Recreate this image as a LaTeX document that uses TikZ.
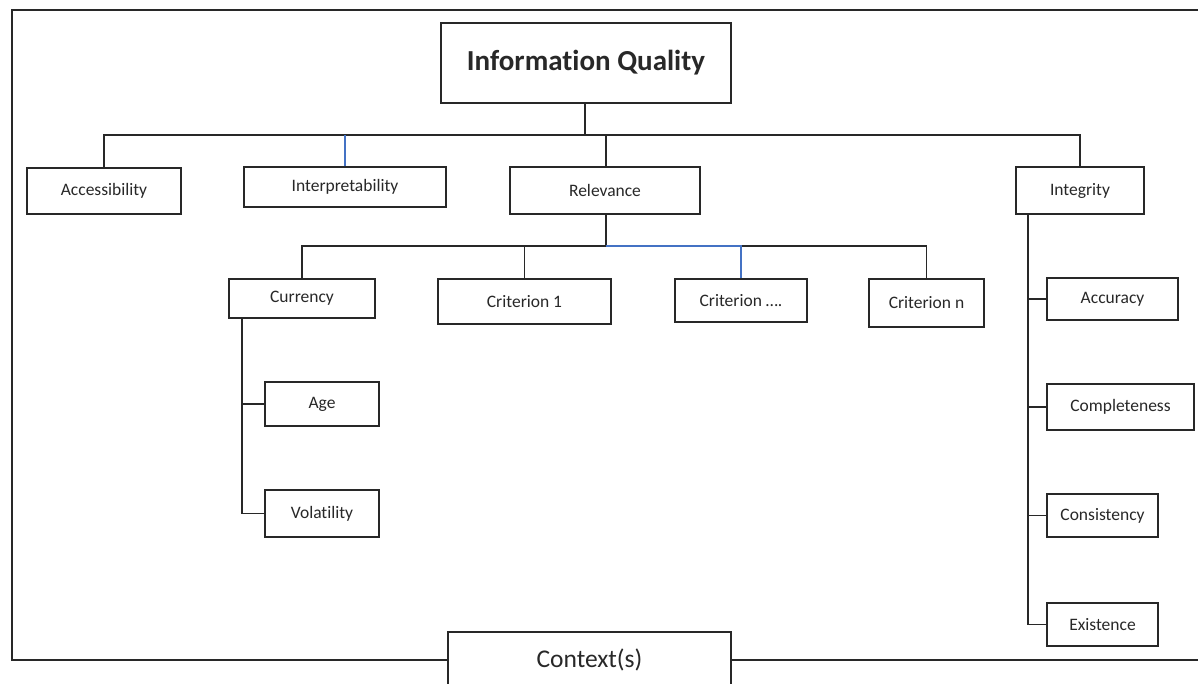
\documentclass[tikz,border=0pt]{standalone}
\usepackage{fontspec}
\setmainfont{Carlito}[Ligatures=NoCommon]
\definecolor{linkblue}{RGB}{68,114,196}
\definecolor{ink}{RGB}{40,40,40}
\begin{document}
\begin{tikzpicture}[x=1pt,y=-1pt,
  box/.style={draw=ink, line width=1.3pt, fill=white, text=ink, inner sep=0pt,
    font=\fontsize{17.5}{20}\selectfont},
  link/.style={draw=ink, line width=1.3pt},
  bluelink/.style={draw=linkblue, line width=1.5pt}]
\clip (0,0) rectangle (1198,683);
\fill[white] (0,0) rectangle (1198,683);

% nodes
\node[box, minimum width=290, minimum height=80, font=\fontsize{29}{34}\selectfont\bfseries] (iq) at (586,63) {Information Quality};
\node[box, minimum width=154, minimum height=46] (acc) at (104,191) {Accessibility};
\node[box, minimum width=202, minimum height=40] (interp) at (345,187) {Interpretability};
\node[box, minimum width=190, minimum height=47] (rel) at (605,190.5) {Relevance};
\node[box, minimum width=128, minimum height=47] (integ) at (1080,190.5) {Integrity};
\node[box, minimum width=146, minimum height=39] (cur) at (302,298.5) {Currency};
\node[box, minimum width=173, minimum height=45] (c1) at (524.5,301.5) {Criterion 1};
\node[box, minimum width=132, minimum height=43] (cdots) at (741,300.5) {Criterion ….};
\node[box, minimum width=115, minimum height=48] (cn) at (926.5,303) {Criterion n};
\node[box, minimum width=114, minimum height=44] (age) at (322,404) {Age};
\node[box, minimum width=114, minimum height=47] (vol) at (322,513.5) {Volatility};
\node[box, minimum width=131, minimum height=42] (accu) at (1112.5,299) {Accuracy};
\node[box, minimum width=147, minimum height=46] (compl) at (1120.5,407) {Completeness};
\node[box, minimum width=111, minimum height=43] (cons) at (1102.5,515.5) {Consistency};
\node[box, minimum width=111, minimum height=43] (exist) at (1102.5,624.5) {Existence};
\node[box, minimum width=283, minimum height=56, font=\fontsize{25.5}{30}\selectfont] (ctx) at (589.5,660) {Context(s)};

% coordinates
\coordinate (bus) at (585,135);
\coordinate (rbus) at (606,246);
\coordinate (curline) at (242,318);
\coordinate (intline) at (1028,214);
\coordinate (frameTL) at (12,10);
\coordinate (frameBL) at (12,660);
\coordinate (frameTR) at (1200,10);
\coordinate (frameBR) at (1200,660);

% outer frame
\draw[link] (ctx.west) -- (frameBL) -- (frameTL) -- (frameTR);
\draw[link] (ctx.east) -- (frameBR);

% top level connectors
\draw[draw=ink, line width=2.8pt] (iq.south -| bus) -- (bus);
\draw[link] (acc.north) |- (bus);
\draw[link] (integ.north) |- (bus);
\draw[link] (rel.north -| rbus) -- (bus -| rbus);
\draw[bluelink] (interp.north) -- (interp.north |- bus);

% relevance subtree
\draw[link] (rel.south -| rbus) -- (rbus);
\draw[link] (cur.north) |- (rbus);
\draw[link] (c1.north) -- (c1.north |- rbus);
\draw[link] (cn.north) |- (cdots.north |- rbus);
\draw[bluelink] (cdots.north) |- (rbus);

% currency subtree
\draw[link] (curline) |- (age.west);
\draw[link] (curline) |- (vol.west);

% integrity subtree
\draw[link] (intline) |- (accu.west);
\draw[link] (intline) |- (compl.west);
\draw[link] (intline) |- (cons.west);
\draw[link] (intline) |- (exist.west);
\end{tikzpicture}
\end{document}
